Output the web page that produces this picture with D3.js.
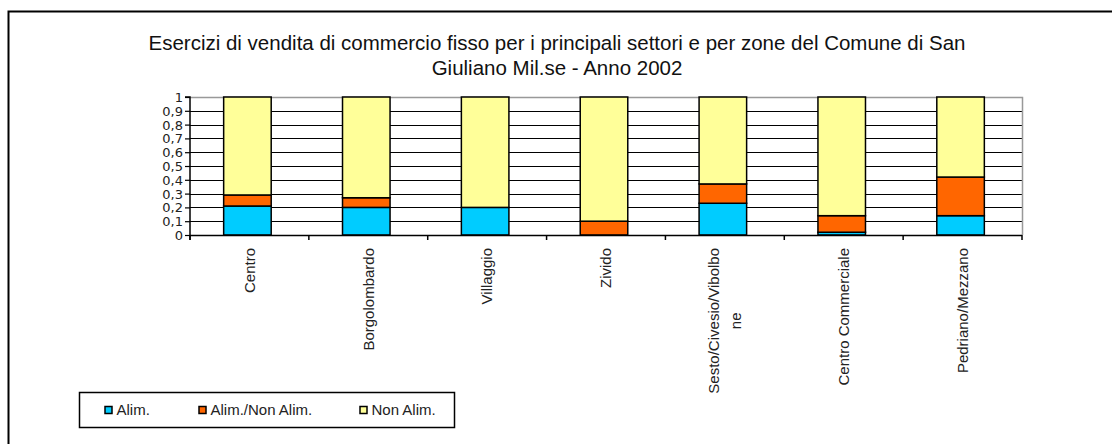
<!DOCTYPE html>
<html>
<head>
<meta charset="utf-8">
<script src="https://cdn.jsdelivr.net/npm/d3@7"></script>
<style>
  body { margin: 0; background: #fff; }
  svg { display: block; }
</style>
</head>
<body>
<div id="chart"></div>
<script>
var zones = ["Centro", "Borgolombardo", "Villaggio", "Zivido", "Sesto/Civesio/Vibolbone", "Centro Commerciale", "Pedriano/Mezzano"];
var zoneLines = [["Centro"], ["Borgolombardo"], ["Villaggio"], ["Zivido"], ["Sesto/Civesio/Vibolbo", "ne"], ["Centro  Commerciale"], ["Pedriano/Mezzano"]];
var alim = [0.21, 0.20, 0.20, 0.00, 0.23, 0.02, 0.14];
var alimNonAlim = [0.08, 0.07, 0.00, 0.10, 0.14, 0.12, 0.28];
var nonAlim = [0.71, 0.73, 0.80, 0.90, 0.63, 0.86, 0.58];
var seriesNames = ["Alim.", "Alim./Non Alim.", "Non Alim."];
var seriesColors = ["#00ccff", "#ff6600", "#ffff99"];
var yTicks = [0, 0.1, 0.2, 0.3, 0.4, 0.5, 0.6, 0.7, 0.8, 0.9, 1];
var title = ["Esercizi di vendita di commercio fisso per i principali settori e per zone del Comune di San",
             "Giuliano Mil.se - Anno 2002"];

var W = 1112, H = 444;
var plot = {left: 190, top: 97, right: 1022, bottom: 235};

var svg = d3.select("#chart").append("svg")
    .attr("width", W)
    .attr("height", H);

// outer frame
svg.append("rect")
    .attr("x", 8.5).attr("y", 11.5)
    .attr("width", 1200).attr("height", 600)
    .style("fill", "none")
    .style("stroke", "black")
    .style("stroke-width", 2);

// title
svg.selectAll(".title")
    .data(title)
    .enter()
    .append("text")
    .attr("x", 557)
    .attr("y", function (d, i) { return 50 + i * 25; })
    .attr("text-anchor", "middle")
    .style("font-family", "'Liberation Sans', Arial, sans-serif")
    .style("font-size", "20.5px")
    .style("fill", "#111")
    .text(function (d) { return d; });

var x = d3.scaleBand()
    .domain(zones)
    .range([plot.left, plot.right])
    .paddingInner(0.6)
    .paddingOuter(0.3);

var y = d3.scaleLinear()
    .domain([0, 1])
    .range([plot.bottom, plot.top]);

// gridlines
svg.append("g")
    .selectAll("line")
    .data(yTicks.slice(1, 10))
    .enter()
    .append("line")
    .attr("x1", plot.left).attr("x2", plot.right)
    .attr("y1", function (d) { return Math.round(y(d)) + 0.5; })
    .attr("y2", function (d) { return Math.round(y(d)) + 0.5; })
    .style("stroke", "black")
    .style("stroke-width", 1.2);

// plot border (top, right) gray
svg.append("path")
    .attr("d", "M" + plot.left + "," + (plot.top + 0.5) + "H" + (plot.right + 0.5) + "V" + plot.bottom)
    .style("fill", "none")
    .style("stroke", "#999")
    .style("stroke-width", 1.5);

// stacked data
var table = zones.map(function (z, i) {
    return {zone: z, a: alim[i], b: alimNonAlim[i], c: nonAlim[i]};
});
var stack = d3.stack().keys(["a", "b", "c"])(table);

var layers = svg.append("g")
    .selectAll("g")
    .data(stack)
    .enter()
    .append("g")
    .style("fill", function (d, i) { return seriesColors[i]; });

layers.selectAll("rect")
    .data(function (d) { return d.filter(function (p) { return p[1] - p[0] > 0; }); })
    .enter()
    .append("rect")
    .attr("x", function (d) { return x(d.data.zone) - 2; })
    .attr("y", function (d) { return y(d[1]); })
    .attr("width", x.bandwidth())
    .attr("height", function (d) { return y(d[0]) - y(d[1]); })
    .style("stroke", "black")
    .style("stroke-width", 1.5);

// y axis
var yAxis = d3.axisLeft(y)
    .tickValues(yTicks)
    .tickSize(5)
    .tickFormat(function (d) { return d3.format(".1~f")(d).replace(".", ","); });

var ya = svg.append("g")
    .attr("transform", "translate(" + plot.left + ",0)")
    .call(yAxis);
ya.select(".domain").style("stroke", "black").style("stroke-width", 1.5)
    .attr("d", "M-5," + plot.top + "H0V" + (plot.bottom + 5));
ya.selectAll(".tick line").style("stroke", "black").style("stroke-width", 1.2);
ya.selectAll(".tick text")
    .attr("x", -7)
    .attr("dy", "0.35em")
    .style("font-family", "'DejaVu Sans', Verdana, sans-serif")
    .style("font-size", "13px")
    .style("fill", "#222");

// x axis line and ticks at category boundaries
var bounds = d3.range(zones.length + 1).map(function (i) { return plot.left + i * (plot.right - plot.left) / zones.length; });
svg.append("line")
    .attr("x1", plot.left).attr("x2", plot.right)
    .attr("y1", plot.bottom + 0.5).attr("y2", plot.bottom + 0.5)
    .style("stroke", "black")
    .style("stroke-width", 1.5);
svg.append("g")
    .selectAll("line")
    .data(bounds)
    .enter()
    .append("line")
    .attr("x1", function (d) { return d; })
    .attr("x2", function (d) { return d; })
    .attr("y1", plot.bottom)
    .attr("y2", plot.bottom + 5)
    .style("stroke", "black")
    .style("stroke-width", 1.5);

// x labels, rotated; multi-line labels are centred as a block starting at the top
var labelTop = plot.bottom + 13;
var xl = svg.append("g")
    .selectAll("g")
    .data(zones)
    .enter()
    .append("g")
    .attr("transform", function (d) {
        return "translate(" + (x(d) + x.bandwidth() / 2) + "," + labelTop + ") rotate(-90)";
    });
xl.each(function (d, i) {
    var g = d3.select(this);
    var lines = zoneLines[i];
    var texts = g.selectAll("text")
        .data(lines)
        .enter()
        .append("text")
        .attr("y", function (t, j) { return (j - (lines.length - 1) / 2) * 22; })
        .attr("dy", "0.35em")
        .attr("text-anchor", "middle")
        .style("font-family", "'Liberation Sans', Arial, sans-serif")
        .style("font-size", "15px")
        .style("fill", "#222")
        .text(function (t) { return t; });
    var maxLen = d3.max(texts.nodes(), function (n) { return n.getComputedTextLength(); });
    texts.attr("x", -maxLen / 2);
});

// legend
var legend = svg.append("g");
legend.append("rect")
    .attr("x", 79.5).attr("y", 392.5)
    .attr("width", 375).attr("height", 35)
    .style("fill", "white")
    .style("stroke", "black")
    .style("stroke-width", 1.5);
var legendX = [105, 199, 360];
var li = legend.selectAll(".item")
    .data(seriesNames)
    .enter()
    .append("g")
    .attr("transform", function (d, i) { return "translate(" + legendX[i] + ",410)"; });
li.append("rect")
    .attr("x", 0).attr("y", -3.5)
    .attr("width", 7).attr("height", 7)
    .style("fill", function (d, i) { return seriesColors[i]; })
    .style("stroke", "black")
    .style("stroke-width", 1.5);
li.append("text")
    .attr("x", 11.5)
    .attr("dy", "0.35em")
    .style("font-family", "'Liberation Sans', Arial, sans-serif")
    .style("font-size", "15px")
    .style("fill", "#222")
    .text(function (d) { return d; });
</script>
</body>
</html>
